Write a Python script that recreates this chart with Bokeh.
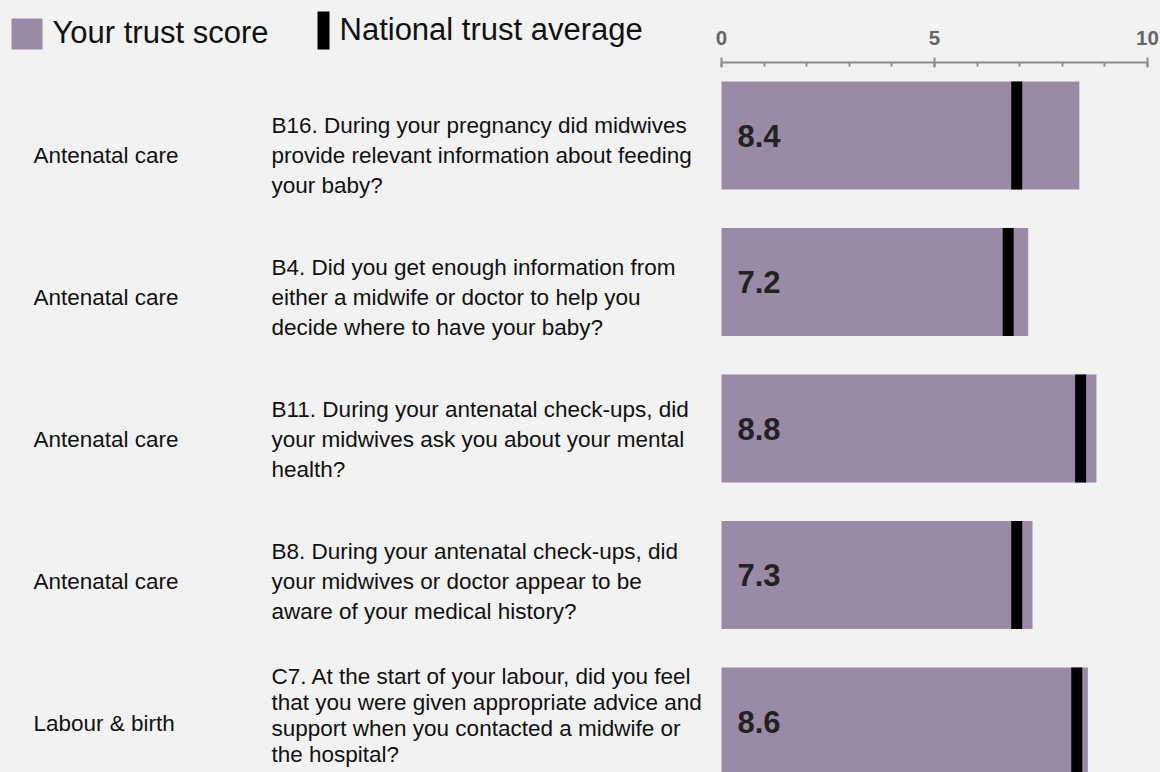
from bokeh.plotting import figure
from bokeh.models import Range1d, LinearAxis, FixedTicker, ColumnDataSource
from bokeh.core.properties import value
from bokeh.embed import file_html
from bokeh.resources import INLINE

# ---------------- data ----------------
sections = ["Antenatal care", "Antenatal care", "Antenatal care", "Antenatal care", "Labour & birth"]
questions = [
    "B16. During your pregnancy did midwives\nprovide relevant information about feeding\nyour baby?",
    "B4. Did you get enough information from\neither a midwife or doctor to help you\ndecide where to have your baby?",
    "B11. During your antenatal check-ups, did\nyour midwives ask you about your mental\nhealth?",
    "B8. During your antenatal check-ups, did\nyour midwives or doctor appear to be\naware of your medical history?",
    "C7. At the start of your labour, did you feel\nthat you were given appropriate advice and\nsupport when you contacted a midwife or\nthe hospital?",
]
trust_scores = [8.4, 7.2, 8.8, 7.3, 8.6]
national_avg = [6.93, 6.73, 8.43, 6.93, 8.34]
major_ticks = [0, 5, 10]
minor_ticks = [0, 1, 2, 3, 4, 5, 6, 7, 8, 9, 10]
legend_labels = ["Your trust score", "National trust average"]

# ---------------- layout helpers (page pixels -> data) ----------------
PX_PER_UNIT = 42.6      # horizontal pixels per score point
ROW_PX = 146.5          # vertical pixels per row
X0_PAGE = 721           # page x of score 0
Y0_PAGE = 135           # page y of first row centre

def X(px):
    return (px - X0_PAGE) / PX_PER_UNIT

def Y(py):
    return (py - Y0_PAGE) / ROW_PX

BAR_COLOR = "#9b8aa5"
BG = "#f2f2f2"
FONT = "Liberation Sans"

W, H = 1160, 772
p = figure(width=W, height=H, output_backend="svg", toolbar_location=None,
           x_range=Range1d(X(0), X(W)), y_range=Range1d(Y(H), Y(0)),
           x_axis_type=None, y_axis_type=None, min_border=0,
           background_fill_color=BG, border_fill_color=BG, outline_line_color=None)
p.grid.visible = False

rows = list(range(len(trust_scores)))
n_lines = [q.count("\n") + 1 for q in questions]
src = ColumnDataSource(dict(
    row=rows,
    score=trust_scores,
    national=national_avg,
    score_txt=[f"{v:.1f}" for v in trust_scores],
    section=sections,
    question=questions,
    label_y=[Y(155 + 142 * i) for i in rows],
    question_y=[Y(155 + 142 * i - (8 if n > 3 else 0)) for i, n in zip(rows, n_lines)],
    line_h=[1.05 if n > 3 else 1.2 for n in n_lines],
))

bar_h = 108 / ROW_PX
p.hbar(y="row", left=0, right="score", height=bar_h, source=src,
       fill_color=BAR_COLOR, line_color=None)
p.rect(x="national", y="row", width=11, width_units="screen", height=bar_h,
       source=src, fill_color="black", line_color=None)
p.text(x=0, y="row", text="score_txt", source=src, x_offset=16,
       text_font=value(FONT), text_font_style="bold", text_font_size="31px",
       text_color="#222222", text_baseline="middle", text_align="left")

p.text(x=X(33), y="label_y", text="section", source=src,
       text_font=value(FONT), text_font_size="22.5px", text_color="#111111",
       text_baseline="middle", text_align="left")
p.text(x=X(271), y="question_y", text="question", source=src,
       text_font=value(FONT), text_font_size="22.5px", text_color="#111111",
       text_baseline="middle", text_align="left", text_line_height="line_h")

# ---------------- legend (manual) ----------------
p.rect(x=[X(26.5)], y=[Y(33.5)], width=31, height=31, width_units="screen",
       height_units="screen", fill_color=BAR_COLOR, line_color=None)
p.text(x=[X(52)], y=[Y(32)], text=[legend_labels[0]], text_font=value(FONT),
       text_font_size="31px", text_color="#111111", text_baseline="middle")
p.rect(x=[X(323)], y=[Y(30)], width=12, height=38, width_units="screen",
       height_units="screen", fill_color="black", line_color=None)
p.text(x=[X(339)], y=[Y(29)], text=[legend_labels[1]], text_font=value(FONT),
       text_font_size="31px", text_color="#111111", text_baseline="middle")

# ---------------- top axis ----------------
ax = LinearAxis(ticker=FixedTicker(ticks=major_ticks, minor_ticks=minor_ticks),
                fixed_location=Y(62), bounds=(0, 10))
ax.axis_line_color = "#8c8c8c"
ax.axis_line_width = 2
ax.major_tick_line_color = "#8c8c8c"
ax.major_tick_line_width = 2
ax.major_tick_in = 5
ax.major_tick_out = 5
ax.minor_tick_line_color = "#8c8c8c"
ax.minor_tick_line_width = 2
ax.minor_tick_in = 4
ax.minor_tick_out = 0
ax.major_label_text_font = FONT
ax.major_label_text_font_style = "bold"
ax.major_label_text_font_size = "20.5px"
ax.major_label_text_color = "#666666"
ax.major_label_standoff = 13
p.add_layout(ax, "above")

html = file_html(p, INLINE)
html = html.replace("</head>", "<style>html,body{background:#f2f2f2;}</style></head>", 1)
open("out.html", "w").write(html)
